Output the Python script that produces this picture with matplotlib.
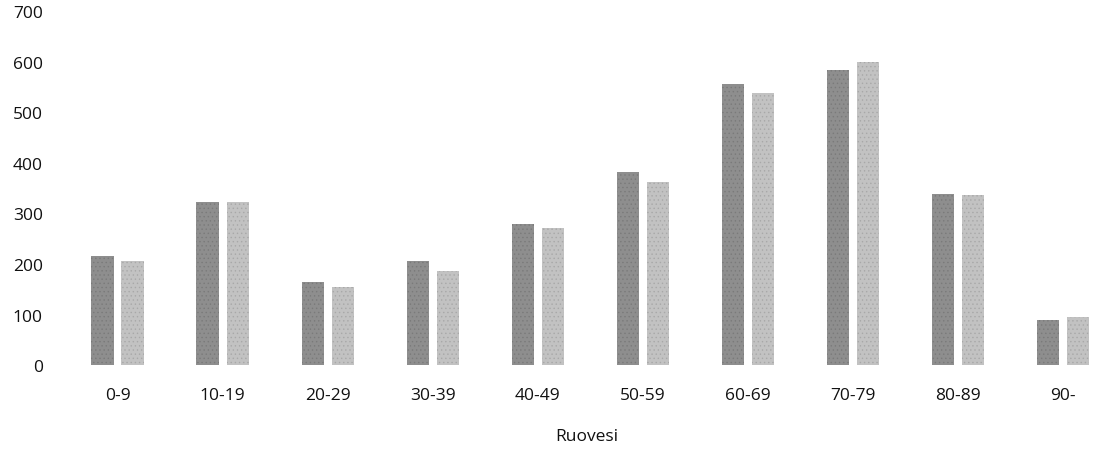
import numpy as np
import matplotlib
matplotlib.use("Agg")
import matplotlib.pyplot as plt

plt.rcParams['font.family'] = ['Open Sans', 'DejaVu Sans']
plt.rcParams['hatch.linewidth'] = 0.5

# age groups and the two series
groups = ["0-9", "10-19", "20-29", "30-39", "40-49", "50-59", "60-69", "70-79", "80-89", "90-"]
dark_vals = [215, 322, 164, 206, 279, 381, 557, 583, 338, 89]
light_vals = [206, 322, 154, 186, 272, 363, 539, 600, 336, 95]
yticks = [0, 100, 200, 300, 400, 500, 600, 700]

fig = plt.figure(figsize=(11.09, 4.52), dpi=100)
ax = fig.add_axes([0.0586, 0.19, 0.9414, 0.783])

x = np.arange(len(groups))
w = 0.21
ax.bar(x - 0.143, dark_vals, w, color="#8e8e8e", hatch="....", edgecolor="#7a7a7a", linewidth=0)
ax.bar(x + 0.143, light_vals, w, color="#c2c2c2", hatch="....", edgecolor="#a8a8a8", linewidth=0)

ax.set_xlim(-0.5, 9.44)
ax.set_ylim(0, 700)
ax.set_yticks(yticks)
ax.set_xticks(x)
ax.set_xticklabels(groups)
ax.tick_params(length=0, labelsize=12.5, colors="#111111")
ax.tick_params(axis="x", pad=16)
ax.tick_params(axis="y", pad=16)
for s in ax.spines.values():
    s.set_visible(False)
ax.set_xlabel("Ruovesi", fontsize=12.5, color="#111111", labelpad=18)

fig.savefig("out.png", dpi=100)
